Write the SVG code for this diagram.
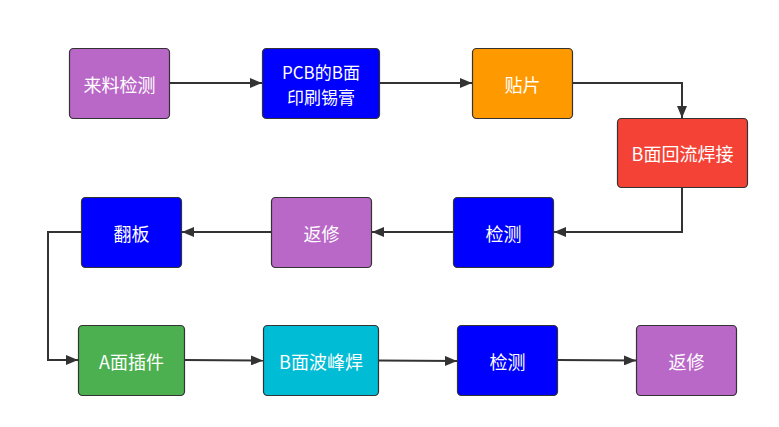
<svg xmlns="http://www.w3.org/2000/svg" width="779" height="427" viewBox="0 0 779 427">
<defs>
<style>
.n{stroke:#333;stroke-width:1.2}
.t{fill:#fff;font-family:"Microsoft YaHei","Noto Sans CJK SC","Noto Sans",sans-serif;font-size:18px;text-anchor:middle;dominant-baseline:central}
.s{font-size:17px}
.c{fill:none;stroke:#333;stroke-width:2}
</style>
<marker id="ah" markerWidth="12" markerHeight="10" refX="12" refY="5" orient="auto" markerUnits="userSpaceOnUse">
<path d="M0,0 L12,5 L0,10 Z" fill="#333"/>
</marker>
</defs>
<rect width="779" height="427" fill="#fff"/>
<g id="connectors">
<path class="c" d="M169.5,83 L262,83" marker-end="url(#ah)"/>
<path class="c" d="M379.5,83 L472,83" marker-end="url(#ah)"/>
<path class="c" d="M572.5,83 L682,83 L682,118" marker-end="url(#ah)"/>
<path class="c" d="M682,188 L682,232 L554,232" marker-end="url(#ah)"/>
<path class="c" d="M453.5,232 L372,232" marker-end="url(#ah)"/>
<path class="c" d="M271.5,232 L182,232" marker-end="url(#ah)"/>
<path class="c" d="M81.5,232 L48,232 L48,360 L78,360" marker-end="url(#ah)"/>
<path class="c" d="M184.5,360 L263,360.5" marker-end="url(#ah)"/>
<path class="c" d="M378.5,360.5 L457,361" marker-end="url(#ah)"/>
<path class="c" d="M557.5,360 L636,360.5" marker-end="url(#ah)"/>
</g>
<g id="n1"><rect class="n" x="69.5" y="48.5" width="100" height="70" rx="4" fill="#BA68C8"/><text class="t" x="119.5" y="83.5">来料检测</text></g>
<g id="n2"><rect class="n" x="262.5" y="48.5" width="117" height="70" rx="4" fill="#0000FF"/><text class="t s" x="321" y="71">PCB的B面</text><text class="t s" x="321" y="96">印刷锡膏</text></g>
<g id="n3"><rect class="n" x="472.5" y="48.5" width="100" height="70" rx="4" fill="#FF9900"/><text class="t" x="522.5" y="83.5">贴片</text></g>
<g id="n4"><rect class="n" x="617.5" y="118.5" width="130" height="69" rx="4" fill="#F44336"/><text class="t" x="682.5" y="153">B面回流焊接</text></g>
<g id="n5"><rect class="n" x="453.5" y="197.5" width="100" height="70" rx="4" fill="#0000FF"/><text class="t" x="503.5" y="232.5">检测</text></g>
<g id="n6"><rect class="n" x="271.5" y="197.5" width="100" height="70" rx="4" fill="#BA68C8"/><text class="t" x="321.5" y="232.5">返修</text></g>
<g id="n7"><rect class="n" x="81.5" y="197.5" width="100" height="70" rx="4" fill="#0000FF"/><text class="t" x="131.5" y="232.5">翻板</text></g>
<g id="n8"><rect class="n" x="78.5" y="325.5" width="106" height="70" rx="4" fill="#4CAF50"/><text class="t" x="131.5" y="360.5">A面插件</text></g>
<g id="n9"><rect class="n" x="263.5" y="325.5" width="115" height="70" rx="4" fill="#00BCD4"/><text class="t" x="321" y="360.5">B面波峰焊</text></g>
<g id="n10"><rect class="n" x="457.5" y="325.5" width="100" height="70" rx="4" fill="#0000FF"/><text class="t" x="507.5" y="360.5">检测</text></g>
<g id="n11"><rect class="n" x="636.5" y="325.5" width="100" height="70" rx="4" fill="#BA68C8"/><text class="t" x="686.5" y="360.5">返修</text></g>
</svg>
